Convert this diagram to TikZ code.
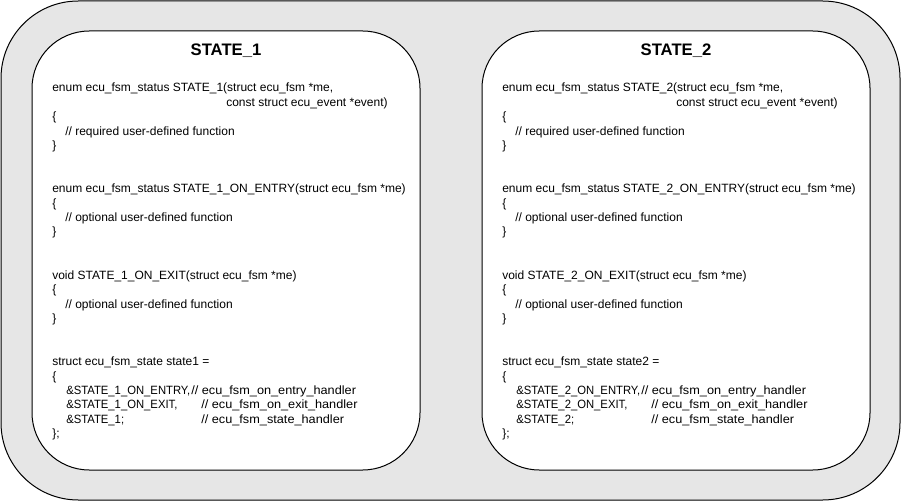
\documentclass[tikz,border=0pt]{standalone}
\usepackage{fontspec}
\setmainfont{Liberation Sans}
\definecolor{outerfill}{HTML}{E6E6E6}
\newcommand{\narrowtxt}[1]{\scalebox{0.94}[1]{#1}}
\newcommand{\widetxt}[1]{\scalebox{1.06}[1]{#1}}
\begin{document}
\begin{tikzpicture}[x=0.75pt,y=-0.75pt,
  outerbox/.style={draw=black, fill=outerfill, line width=0.75pt, rounded corners=58pt,
    inner sep=0pt, outer sep=0pt, minimum width=674.25pt, minimum height=374.25pt},
  statebox/.style={draw=black, fill=white, line width=0.75pt, rounded corners=43pt,
    inner sep=0pt, outer sep=0pt, minimum width=291pt, minimum height=329.25pt},
  title/.style={font=\fontsize{12.5pt}{14pt}\selectfont\bfseries, inner sep=0pt, anchor=base},
  code/.style={font=\fontsize{9pt}{10.8pt}\selectfont, inner sep=0pt, anchor=base west}]
\useasboundingbox (0,0) rectangle (902,502);
\node[outerbox] (outer) at (450.5,250.5) {};
\foreach \k in {1,2}{
  \pgfmathsetmacro{\dx}{450*(\k-1)}
  \node[statebox] (box\k) at (226+\dx,250.5) {};
  \node[title] (title\k) at (226+\dx,56) {STATE\_\k};
  \node[code] (a\k) at (52+\dx,92) {enum ecu\_fsm\_status STATE\_\k(struct ecu\_fsm *me,};
  \node[code] (b\k) at (226+\dx,106.4) {const struct ecu\_event *event)};
  \node[code] (c\k) at (52+\dx,120.8) {\{};
  \node[code] (d\k) at (65+\dx,135.2) {// required user-defined function};
  \node[code] (e\k) at (52+\dx,149.6) {\}};
  \node[code] (f\k) at (52+\dx,192.8) {enum ecu\_fsm\_status STATE\_\k\_ON\_ENTRY(struct ecu\_fsm *me)};
  \node[code] (g\k) at (52+\dx,207.2) {\{};
  \node[code] (h\k) at (65+\dx,221.6) {// optional user-defined function};
  \node[code] (i\k) at (52+\dx,236.0) {\}};
  \node[code] (j\k) at (52+\dx,279.2) {void STATE\_\k\_ON\_EXIT(struct ecu\_fsm *me)};
  \node[code] (k\k) at (52+\dx,293.6) {\{};
  \node[code] (l\k) at (65+\dx,308.0) {// optional user-defined function};
  \node[code] (m\k) at (52+\dx,322.4) {\}};
  \node[code] (n\k) at (52+\dx,365.6) {struct ecu\_fsm\_state state\k\space=};
  \node[code] (o\k) at (52+\dx,380.0) {\{};
  \node[code] (p\k) at (66+\dx,394.4) {\narrowtxt{\&STATE\_\k\_ON\_ENTRY,}};
  \node[code] (q\k) at (191+\dx,394.4) {\widetxt{// ecu\_fsm\_on\_entry\_handler}};
  \node[code] (r\k) at (66+\dx,408.8) {\narrowtxt{\&STATE\_\k\_ON\_EXIT,}};
  \node[code] (s\k) at (201+\dx,408.8) {\widetxt{// ecu\_fsm\_on\_exit\_handler}};
  \node[code] (t\k) at (66+\dx,423.2) {\narrowtxt{\&STATE\_\k;}};
  \node[code] (u\k) at (201+\dx,423.2) {\widetxt{// ecu\_fsm\_state\_handler}};
  \node[code] (v\k) at (52+\dx,437.6) {\};};
}
\end{tikzpicture}
\end{document}
